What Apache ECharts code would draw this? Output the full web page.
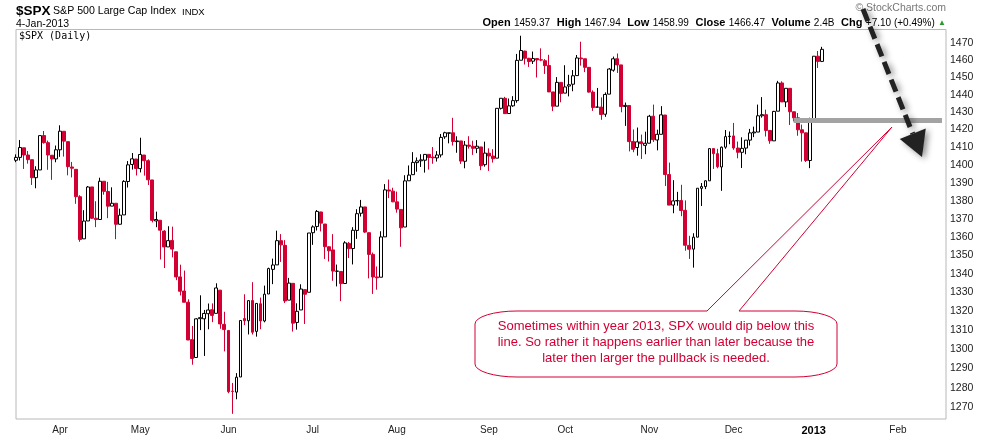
<!DOCTYPE html>
<html>
<head>
<meta charset="utf-8">
<script src="https://cdn.jsdelivr.net/npm/echarts@6/dist/echarts.min.js"></script>
<style>
html,body{margin:0;padding:0;background:#fff;}
#chart{width:990px;height:438px;}
</style>
</head>
<body>
<div id="chart"></div>
<script>
// ---- categories: trading days (plus empty future days to the right edge) ----
const dates = [
'2012-03-16','2012-03-19','2012-03-20','2012-03-21','2012-03-22','2012-03-23','2012-03-26','2012-03-27','2012-03-28','2012-03-29','2012-03-30',
'2012-04-02','2012-04-03','2012-04-04','2012-04-05','2012-04-09','2012-04-10','2012-04-11','2012-04-12','2012-04-13','2012-04-16','2012-04-17','2012-04-18','2012-04-19','2012-04-20','2012-04-23','2012-04-24','2012-04-25','2012-04-26','2012-04-27','2012-04-30',
'2012-05-01','2012-05-02','2012-05-03','2012-05-04','2012-05-07','2012-05-08','2012-05-09','2012-05-10','2012-05-11','2012-05-14','2012-05-15','2012-05-16','2012-05-17','2012-05-18','2012-05-21','2012-05-22','2012-05-23','2012-05-24','2012-05-25','2012-05-29','2012-05-30','2012-05-31',
'2012-06-01','2012-06-04','2012-06-05','2012-06-06','2012-06-07','2012-06-08','2012-06-11','2012-06-12','2012-06-13','2012-06-14','2012-06-15','2012-06-18','2012-06-19','2012-06-20','2012-06-21','2012-06-22','2012-06-25','2012-06-26','2012-06-27','2012-06-28','2012-06-29',
'2012-07-02','2012-07-03','2012-07-05','2012-07-06','2012-07-09','2012-07-10','2012-07-11','2012-07-12','2012-07-13','2012-07-16','2012-07-17','2012-07-18','2012-07-19','2012-07-20','2012-07-23','2012-07-24','2012-07-25','2012-07-26','2012-07-27','2012-07-30','2012-07-31',
'2012-08-01','2012-08-02','2012-08-03','2012-08-06','2012-08-07','2012-08-08','2012-08-09','2012-08-10','2012-08-13','2012-08-14','2012-08-15','2012-08-16','2012-08-17','2012-08-20','2012-08-21','2012-08-22','2012-08-23','2012-08-24','2012-08-27','2012-08-28','2012-08-29','2012-08-30','2012-08-31',
'2012-09-04','2012-09-05','2012-09-06','2012-09-07','2012-09-10','2012-09-11','2012-09-12','2012-09-13','2012-09-14','2012-09-17','2012-09-18','2012-09-19','2012-09-20','2012-09-21','2012-09-24','2012-09-25','2012-09-26','2012-09-27','2012-09-28',
'2012-10-01','2012-10-02','2012-10-03','2012-10-04','2012-10-05','2012-10-08','2012-10-09','2012-10-10','2012-10-11','2012-10-12','2012-10-15','2012-10-16','2012-10-17','2012-10-18','2012-10-19','2012-10-22','2012-10-23','2012-10-24','2012-10-25','2012-10-26','2012-10-31',
'2012-11-01','2012-11-02','2012-11-05','2012-11-06','2012-11-07','2012-11-08','2012-11-09','2012-11-12','2012-11-13','2012-11-14','2012-11-15','2012-11-16','2012-11-19','2012-11-20','2012-11-21','2012-11-23','2012-11-26','2012-11-27','2012-11-28','2012-11-29','2012-11-30',
'2012-12-03','2012-12-04','2012-12-05','2012-12-06','2012-12-07','2012-12-10','2012-12-11','2012-12-12','2012-12-13','2012-12-14','2012-12-17','2012-12-18','2012-12-19','2012-12-20','2012-12-21','2012-12-24','2012-12-26','2012-12-27','2012-12-28','2012-12-31',
'2013-01-02','2013-01-03','2013-01-04','2013-01-07','2013-01-08','2013-01-09','2013-01-10','2013-01-11','2013-01-14','2013-01-15','2013-01-16','2013-01-17','2013-01-18','2013-01-22','2013-01-23','2013-01-24','2013-01-25','2013-01-28','2013-01-29','2013-01-30','2013-01-31',
'2013-02-01','2013-02-04','2013-02-05','2013-02-06','2013-02-07','2013-02-08','2013-02-11','2013-02-12','2013-02-13','2013-02-14','2013-02-15','2013-02-19','2013-02-20'
];

// ---- series values (daily OHLC) ----
const open = [
1402.55,1404.17,1409.59,1405.52,1402.89,1392.78,1397.11,1416.55,1412.52,1405.39,1403.31,
1408.47,1418.98,1413.09,1398.79,1397.45,1382.18,1358.98,1368.77,1387.61,1370.27,1369.57,1390.78,1385.08,1376.96,1378.53,1366.97,1372.11,1390.64,1400.19,1403.26,
1397.86,1405.50,1402.32,1391.51,1368.79,1369.16,1363.20,1354.58,1358.11,1351.93,1338.36,1330.78,1324.82,1305.05,1295.73,1316.09,1316.02,1318.72,1320.81,1318.90,1331.25,1313.09,
1309.87,1278.29,1277.82,1285.61,1316.15,1314.99,1325.72,1309.40,1324.02,1314.88,1329.19,1342.42,1344.83,1357.98,1355.43,1325.92,1334.90,1314.09,1320.71,1331.52,1330.12,
1362.33,1365.75,1373.72,1367.09,1354.66,1352.96,1341.40,1341.29,1334.81,1356.50,1353.68,1363.58,1373.01,1376.51,1362.34,1350.52,1338.35,1338.17,1360.05,1385.94,1385.27,
1379.32,1375.13,1365.45,1391.04,1394.46,1401.23,1402.26,1402.58,1405.87,1404.36,1403.89,1405.57,1415.84,1417.85,1418.13,1413.09,1413.49,1401.99,1411.13,1410.44,1409.32,1410.08,1400.07,
1406.54,1404.94,1403.74,1432.12,1437.92,1429.13,1433.56,1436.56,1460.07,1465.42,1461.19,1459.50,1461.05,1460.34,1459.76,1456.94,1441.60,1433.36,1447.13,
1440.90,1444.99,1446.05,1451.08,1461.40,1460.93,1455.90,1441.48,1432.82,1432.84,1428.75,1440.31,1454.22,1460.94,1457.34,1433.21,1433.74,1413.20,1409.74,1412.97,1410.99,
1412.20,1427.59,1414.02,1417.26,1428.27,1394.53,1377.55,1379.86,1380.03,1374.64,1355.41,1353.36,1359.88,1386.82,1387.79,1391.03,1409.15,1406.29,1398.77,1409.96,1415.95,
1416.34,1409.46,1407.05,1409.43,1413.95,1418.07,1418.55,1427.84,1428.48,1419.45,1413.54,1430.47,1446.79,1435.81,1443.67,1430.15,1426.66,1419.83,1418.10,1402.43,
1426.19,1462.42,1459.37
];
const high = [
1405.88,1414.00,1409.59,1407.75,1402.89,1399.18,1416.58,1419.15,1413.65,1405.39,1410.89,
1422.38,1419.00,1413.09,1401.60,1397.45,1383.01,1374.71,1388.13,1387.61,1379.66,1392.76,1390.78,1390.46,1387.40,1378.53,1375.57,1391.37,1402.09,1406.64,1403.26,
1415.32,1405.50,1403.07,1391.51,1373.91,1369.16,1363.73,1365.88,1365.66,1351.93,1344.94,1341.78,1326.36,1312.24,1316.39,1328.49,1320.71,1324.14,1324.20,1334.93,1331.25,1319.74,
1309.87,1282.55,1287.62,1315.13,1329.05,1325.81,1335.52,1324.31,1327.28,1333.68,1343.32,1348.22,1363.46,1361.57,1358.27,1337.82,1334.90,1324.24,1334.40,1331.52,1362.17,
1366.35,1374.81,1373.85,1367.09,1354.87,1361.54,1345.00,1341.29,1357.70,1357.26,1365.36,1375.26,1380.39,1376.51,1362.34,1351.53,1343.98,1363.13,1389.19,1391.74,1387.16,
1385.03,1375.13,1394.16,1399.63,1407.14,1404.14,1405.95,1405.98,1405.87,1410.03,1407.73,1417.44,1418.71,1418.13,1426.68,1416.12,1413.49,1413.46,1416.17,1413.63,1413.95,1410.08,1413.09,
1409.31,1408.81,1432.12,1437.92,1438.74,1437.76,1439.15,1463.76,1474.51,1465.63,1461.47,1465.15,1461.23,1467.07,1460.72,1463.24,1441.60,1450.20,1447.13,
1457.14,1451.52,1454.30,1463.14,1470.96,1460.93,1455.90,1442.52,1443.90,1438.43,1441.31,1455.51,1462.20,1464.02,1457.34,1435.46,1433.74,1420.04,1421.12,1417.09,1418.76,
1428.35,1434.27,1419.90,1433.38,1428.27,1401.23,1391.39,1384.87,1388.81,1380.13,1360.62,1362.03,1386.89,1389.77,1391.25,1409.16,1409.15,1409.01,1410.31,1419.70,1418.86,
1423.73,1413.14,1415.56,1413.95,1420.34,1421.64,1434.27,1438.59,1431.36,1419.45,1430.67,1448.00,1447.75,1443.70,1443.67,1430.15,1429.42,1422.80,1418.10,1426.74,
1462.43,1465.47,1467.94
];
const low = [
1401.47,1402.43,1397.68,1400.64,1388.73,1386.87,1397.11,1411.95,1397.20,1391.56,1401.42,
1404.46,1404.62,1394.09,1392.92,1378.24,1357.38,1358.98,1368.77,1369.85,1365.38,1369.57,1383.29,1370.30,1376.96,1358.79,1366.82,1372.11,1387.28,1397.31,1394.00,
1395.73,1393.92,1388.71,1367.96,1365.36,1347.75,1343.13,1354.58,1348.89,1336.61,1328.41,1324.79,1304.86,1291.98,1295.73,1310.04,1296.53,1310.50,1314.23,1318.90,1310.76,1298.90,
1277.25,1266.74,1274.16,1285.61,1312.68,1307.77,1307.73,1306.62,1310.51,1314.14,1329.19,1334.46,1344.83,1346.45,1324.41,1325.92,1309.27,1310.30,1320.71,1313.29,1330.12,
1355.70,1363.53,1363.02,1348.03,1346.65,1336.27,1333.25,1325.41,1334.81,1348.51,1345.07,1358.96,1371.21,1362.19,1337.56,1329.24,1331.50,1338.17,1360.05,1381.37,1379.17,
1373.35,1354.65,1365.45,1391.04,1394.46,1396.13,1398.80,1395.62,1397.32,1400.60,1401.83,1404.15,1414.67,1412.12,1410.86,1406.78,1400.50,1398.04,1409.11,1405.59,1406.57,1397.01,1398.96,
1396.56,1401.25,1403.74,1431.45,1428.98,1429.13,1432.99,1435.34,1460.07,1457.55,1456.13,1457.88,1449.98,1459.51,1452.06,1441.59,1430.53,1433.36,1435.60,
1440.90,1439.01,1441.99,1451.08,1456.89,1453.10,1441.18,1430.64,1432.82,1425.53,1427.24,1440.31,1453.35,1452.63,1429.85,1422.06,1407.56,1407.10,1405.14,1403.28,1405.95,
1412.20,1412.91,1408.13,1417.26,1388.14,1377.51,1373.03,1377.19,1371.39,1352.50,1348.05,1343.35,1359.88,1377.04,1386.39,1391.03,1397.68,1398.03,1385.43,1409.04,1411.63,
1408.46,1403.65,1398.23,1405.93,1410.90,1415.64,1418.55,1426.76,1416.00,1411.88,1413.54,1430.47,1435.80,1432.82,1422.58,1424.66,1416.43,1401.80,1401.58,1398.11,
1426.19,1455.53,1458.99
];
const close = [
1404.17,1409.75,1405.52,1402.89,1392.78,1397.11,1416.51,1412.52,1405.54,1403.28,1408.47,
1419.04,1413.38,1398.96,1398.08,1382.20,1358.59,1368.71,1387.57,1370.26,1369.57,1390.78,1385.14,1376.92,1378.53,1366.94,1371.97,1390.69,1399.98,1403.36,1397.91,
1405.82,1402.31,1391.57,1369.10,1369.58,1363.72,1354.58,1357.99,1353.39,1338.35,1330.66,1324.80,1304.86,1295.22,1315.99,1316.63,1318.86,1320.68,1317.82,1332.42,1313.32,1310.33,
1278.04,1278.18,1285.50,1315.13,1314.99,1325.66,1308.93,1324.18,1314.88,1329.10,1342.84,1344.78,1357.98,1355.69,1325.51,1335.02,1313.72,1319.99,1331.85,1329.04,1362.16,
1365.51,1374.02,1367.58,1354.68,1352.46,1341.47,1341.45,1334.76,1356.78,1353.64,1363.67,1372.78,1376.51,1362.66,1350.52,1338.31,1337.89,1360.02,1385.97,1385.30,1379.32,
1375.32,1365.00,1390.99,1394.23,1401.35,1402.22,1402.80,1405.87,1404.11,1403.93,1405.53,1415.51,1418.16,1418.13,1413.17,1413.49,1402.08,1411.13,1410.44,1409.30,1410.49,1399.48,1406.58,
1404.94,1403.44,1432.12,1437.92,1429.08,1433.56,1436.56,1459.99,1465.77,1461.19,1459.32,1461.05,1460.26,1460.15,1456.89,1441.59,1433.32,1447.15,1440.67,
1444.49,1445.75,1450.99,1461.40,1460.93,1455.88,1441.48,1432.56,1432.84,1428.59,1440.13,1454.92,1460.91,1457.34,1433.19,1433.82,1413.11,1408.75,1412.97,1411.94,1412.16,
1427.59,1414.20,1417.26,1428.39,1394.53,1377.51,1379.85,1380.03,1374.53,1355.49,1353.33,1359.88,1386.89,1387.81,1391.03,1409.15,1406.29,1398.94,1409.93,1415.95,1416.18,
1409.46,1407.05,1409.28,1413.94,1418.07,1418.55,1427.84,1428.48,1419.45,1413.58,1430.36,1446.79,1435.81,1443.69,1430.15,1426.66,1419.83,1418.10,1402.43,1426.19,
1462.42,1459.37,1466.47
];

// ---- tick labels ----
const priceTicks = [1270,1280,1290,1300,1310,1320,1330,1340,1350,1360,1370,1380,1390,1400,1410,1420,1430,1440,1450,1460,1470];
const monthNames = ['Jan','Feb','Mar','Apr','May','Jun','Jul','Aug','Sep','Oct','Nov','Dec'];

// ---- annotation values ----
const supportLevel = 1425.5;
const supportFrom = '2012-12-24';
const supportTo = '2013-02-19';
const volumeText = '2.4B';
const noteLines = [
  'Sometimes within year 2013, SPX would dip below this',
  'line. So rather it happens earlier than later because the',
  'later then larger the pullback is needed.'
];

const RED = '#d20032';
const ohlc = open.map((o, i) => [o, close[i], low[i], high[i]]);
const last = close.length - 1;
const chg = close[last] - close[last - 1];
const pct = chg / close[last - 1] * 100;
const isMonthStart = i => i > 0 && dates[i].slice(0, 7) !== dates[i - 1].slice(0, 7);

const chart = echarts.init(document.getElementById('chart'), null, {renderer: 'canvas'});

const F = '"Liberation Sans", Arial, sans-serif';
const headerRich = {
  k: {fontFamily: F, fontWeight: 'bold', fontSize: 11, fill: '#000'},
  v: {fontFamily: F, fontSize: 10, fill: '#000'},
  g: {fontFamily: F, fontSize: 8, fill: '#2a9a2a'}
};
const headerText =
  '{k|Open} {v|' + open[last].toFixed(2) + '}  ' +
  '{k|High} {v|' + high[last].toFixed(2) + '}  ' +
  '{k|Low} {v|' + low[last].toFixed(2) + '}  ' +
  '{k|Close} {v|' + close[last].toFixed(2) + '}  ' +
  '{k|Volume} {v|' + volumeText + '}  ' +
  '{k|Chg} {v|+' + chg.toFixed(2) + ' (+' + pct.toFixed(2) + '%)} {g|▲}';

// arrow geometry (annotation)
const arrowStart = [863, 9], arrowTip = [922, 157];
const dx = arrowTip[0] - arrowStart[0], dy = arrowTip[1] - arrowStart[1];
const len = Math.sqrt(dx * dx + dy * dy);
const ux = dx / len, uy = dy / len;
const baseC = [arrowTip[0] - 25 * ux, arrowTip[1] - 25 * uy];
const headPts = [[baseC[0] + 14 * uy, baseC[1] - 14 * ux], arrowTip, [baseC[0] - 14 * uy, baseC[1] + 14 * ux]];

// callout outline: rounded box with elliptical corners + pointer
function corner(cx, cy, rx, ry, a0, a1) {
  const pts = [];
  for (let k = 0; k <= 8; k++) {
    const a = a0 + (a1 - a0) * k / 8;
    pts.push([cx + rx * Math.cos(a), cy + ry * Math.sin(a)]);
  }
  return pts;
}
const bx0 = 475, bx1 = 837, by0 = 311, by1 = 377, rx = 42, ry = 13;
const calloutPts = [].concat(
  [[bx0 + rx, by0], [707, by0], [892, 127], [739, by0]],
  corner(bx1 - rx, by0 + ry, rx, ry, -Math.PI / 2, 0),
  corner(bx1 - rx, by1 - ry, rx, ry, 0, Math.PI / 2),
  corner(bx0 + rx, by1 - ry, rx, ry, Math.PI / 2, Math.PI),
  corner(bx0 + rx, by0 + ry, rx, ry, Math.PI, Math.PI * 1.5)
);

const option = {
  animation: false,
  backgroundColor: '#ffffff',
  grid: {left: 16, right: 44, top: 29.5, bottom: 19, show: true, borderColor: '#b8b8b8', borderWidth: 1, backgroundColor: 'transparent'},
  xAxis: {
    type: 'category',
    data: dates,
    boundaryGap: false,
    axisLine: {show: false},
    axisTick: {show: false},
    splitLine: {show: false},
    axisLabel: {
      interval: (i) => isMonthStart(i),
      margin: 6,
      fontSize: 10,
      color: '#222',
      fontFamily: '"Liberation Sans Narrow", "Liberation Sans", Arial, sans-serif',
      formatter: (v) => {
        const m = parseInt(v.slice(5, 7), 10) - 1;
        return m === 0 ? '{b|' + v.slice(0, 4) + '}' : monthNames[m];
      },
      rich: {b: {fontWeight: 'bold', fontSize: 11, color: '#000', fontFamily: F}}
    }
  },
  yAxis: {
    type: 'log',
    logBase: 10,
    min: 1264.1,
    max: 1478.2,
    position: 'right',
    axisLine: {show: false},
    axisTick: {show: false},
    axisLabel: {show: false},
    splitLine: {show: false}
  },
  series: [{
    type: 'candlestick',
    data: ohlc,
    barWidth: 3.4,
    itemStyle: {color: '#ffffff', color0: RED, borderColor: '#000000', borderColor0: RED, borderWidth: 1},
    markLine: {
      silent: true,
      symbol: 'none',
      animation: false,
      data: [
        ...priceTicks.map(v => ({
          yAxis: v,
          lineStyle: {color: 'rgba(0,0,0,0)', width: 1},
          label: {show: true, position: 'end', formatter: String(v), color: '#222', fontSize: 10.5, fontFamily: F, distance: 4}
        })),
        [
          {coord: [supportFrom, supportLevel], lineStyle: {color: '#a3a3a3', width: 5, type: 'solid'}, label: {show: false}},
          {coord: [supportTo, supportLevel]}
        ]
      ]
    }
  }],
  graphic: [
    {type: 'text', x: 16, y: 4, style: {text: '$SPX', font: 'bold 13.5px ' + F, fill: '#000'}},
    {type: 'text', x: 53, y: 6, style: {text: 'S&P 500 Large Cap Index', font: '10.6px ' + F, fill: '#000'}},
    {type: 'text', x: 182, y: 7, style: {text: 'INDX', font: '9.5px ' + F, fill: '#000'}},
    {type: 'text', x: 16, y: 19, style: {text: '4-Jan-2013', font: '10.5px ' + F, fill: '#000'}},
    {type: 'text', x: 19, y: 31, style: {text: '$SPX (Daily)', font: '10px "DejaVu Sans Mono", monospace', fill: '#000'}},
    {type: 'text', right: 44, top: 3, style: {text: '© StockCharts.com', font: '10.5px ' + F, fill: '#777'}},
    {type: 'text', right: 44, top: 17, style: {text: headerText, rich: headerRich}},
    {type: 'polygon', z: 50, shape: {points: calloutPts}, style: {fill: '#fff', stroke: RED, lineWidth: 1}},
    {type: 'text', x: 656, y: 318, z: 51, style: {text: noteLines.join('\n'), font: '13px ' + F, fill: RED, textAlign: 'center', lineHeight: 16}},
    {type: 'line', z: 60, shape: {x1: arrowStart[0], y1: arrowStart[1], x2: baseC[0], y2: baseC[1]},
      style: {stroke: '#222', lineWidth: 5, lineDash: [13, 6], shadowBlur: 6, shadowColor: 'rgba(0,0,0,0.45)', shadowOffsetX: 3, shadowOffsetY: 2}},
    {type: 'polygon', z: 60, shape: {points: headPts},
      style: {fill: '#222', shadowBlur: 6, shadowColor: 'rgba(0,0,0,0.45)', shadowOffsetX: 3, shadowOffsetY: 2}}
  ]
};
chart.setOption(option);
</script>
</body>
</html>
